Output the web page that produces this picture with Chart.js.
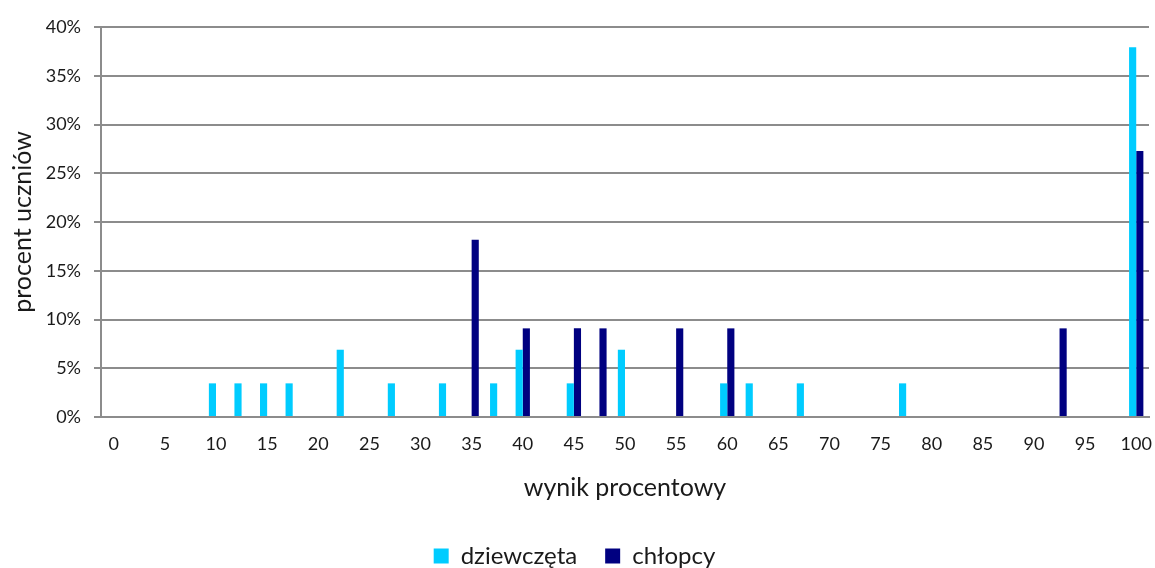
<!DOCTYPE html>
<html>
<head>
<meta charset="utf-8">
<script src="https://cdn.jsdelivr.net/npm/chart.js@4"></script>
<style>
  html, body { margin: 0; padding: 0; background: #fff; }
  #wrap { width: 1155px; height: 568px; }
</style>
</head>
<body>
<div id="wrap"><canvas id="myChart" width="1155" height="568"></canvas></div>
<script>
// wynik procentowy (co 2,5 pkt)
const categories = ["0","2.5","5","7.5","10","12.5","15","17.5","20","22.5",
  "25","27.5","30","32.5","35","37.5","40","42.5","45","47.5",
  "50","52.5","55","57.5","60","62.5","65","67.5","70","72.5",
  "75","77.5","80","82.5","85","87.5","90","92.5","95","97.5","100"];

// procent uczniów
const dziewczeta = [null,null,null,null,3.45,3.45,3.45,3.45,null,6.9,
  null,3.45,null,3.45,null,3.45,6.9,null,3.45,null,
  6.9,null,null,null,3.45,3.45,null,3.45,null,null,
  null,3.45,null,null,null,null,null,null,null,null,37.93];

const chlopcy = [null,null,null,null,null,null,null,null,null,null,
  null,null,null,null,18.18,null,9.09,null,9.09,9.09,
  null,null,9.09,null,9.09,null,null,null,null,null,
  null,null,null,null,null,null,null,9.09,null,null,27.27];

const yTicks = [0,5,10,15,20,25,30,35,40];

const FONT = "Lato, 'Open Sans', sans-serif";
const TXT = "#1a1a1a";
const GRID = "#8c8c8c";

document.addEventListener("DOMContentLoaded", function(){
    const ctx = document.getElementById('myChart').getContext('2d');

    const myChart = new Chart(ctx, {
        type: 'bar',
        data: {
            labels: categories,
            datasets: [{
                label: 'dziewczęta',
                data: dziewczeta,
                backgroundColor: '#00CCFF',
                categoryPercentage: 0.56,
                barPercentage: 1.0
            }, {
                label: 'chłopcy',
                data: chlopcy,
                backgroundColor: '#000080',
                categoryPercentage: 0.56,
                barPercentage: 1.0
            }]
        },
        options: {
            responsive: false,
            animation: false,
            layout: { padding: { top: 27, right: 6, left: 0, bottom: -10 } },
            plugins: {
                tooltip: { enabled: false },
                legend: {
                    position: 'bottom',
                    labels: {
                        boxWidth: 15,
                        boxHeight: 15,
                        color: TXT,
                        padding: 28,
                        font: { family: FONT, size: 24 }
                    }
                }
            },
            scales: {
                x: {
                    grid: { display: false, drawTicks: false },
                    border: { display: true, color: GRID, width: 2 },
                    ticks: {
                        autoSkip: false,
                        maxRotation: 0,
                        padding: 16,
                        color: TXT,
                        font: { family: FONT, size: 18 },
                        callback: function(v, i) {
                            const s = categories[i];
                            return (parseFloat(s) % 5 === 0) ? s : '';
                        }
                    },
                    title: {
                        display: true,
                        text: 'wynik procentowy',
                        color: TXT,
                        padding: { top: 0, bottom: 13 },
                        font: { family: FONT, size: 25 }
                    },
                    afterFit: function(s) {
                        s.height = 99;
                        s.paddingLeft = 0;
                        s.paddingRight = 0;
                    }
                },
                y: {
                    min: 0,
                    max: 40,
                    afterBuildTicks: function(s) {
                        s.ticks = yTicks.map(v => ({ value: v }));
                    },
                    grid: {
                        color: GRID,
                        lineWidth: 2,
                        tickLength: 7
                    },
                    border: { display: true, color: GRID, width: 2 },
                    ticks: {
                        padding: 13,
                        color: TXT,
                        font: { family: FONT, size: 18 },
                        callback: v => v + '%'
                    },
                    title: {
                        display: true,
                        text: 'procent uczniów',
                        color: TXT,
                        padding: { top: 8, bottom: 0 },
                        font: { family: FONT, size: 25 }
                    },
                    afterFit: function(s) {
                        s.width = 101;
                        s.paddingTop = 0;
                        s.paddingBottom = 0;
                    }
                }
            }
        }
    });
});
</script>
</body>
</html>
